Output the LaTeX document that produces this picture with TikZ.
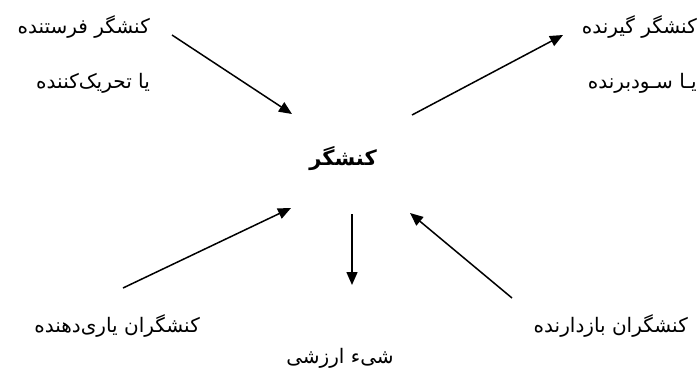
\documentclass[tikz,border=0pt]{standalone}
\usepackage{fontspec}
\newfontfamily\fa[Script=Arabic]{DejaVu Sans}
\TeXXeTstate=1
\usetikzlibrary{arrows.meta}
\tikzset{
  lbl/.style={inner sep=0pt, font=\fa\fontsize{20}{23}\selectfont},
  mainlbl/.style={inner sep=0pt, font=\fa\bfseries\fontsize{21}{24}\selectfont},
  arr/.style={line width=1.5pt, -{Triangle[length=13pt,width=11pt]}}
}
\begin{document}
\begin{tikzpicture}[x=1pt,y=-1pt]
\useasboundingbox (0,0) rectangle (699,373);
\node[lbl, anchor=east] (tl1) at (150,27) {\beginR کنشگر فرستنده\endR};
\node[lbl, anchor=east] (tl2) at (150,83) {\beginR یا تحریک‌کننده\endR};
\node[lbl, anchor=east] (tr1) at (697,27) {\beginR کنشگر گیرنده\endR};
\node[lbl, anchor=east] (tr2) at (697,83) {\beginR یـا سـودبرنده\endR};
\node[mainlbl] (c) at (343,159) {\beginR کنشگر\endR};
\node[lbl, anchor=east] (bl) at (200,326) {\beginR کنشگران یاری‌دهنده\endR};
\node[lbl, anchor=east] (br) at (688,326) {\beginR کنشگران بازدارنده\endR};
\node[lbl] (b) at (340,358) {\beginR شیء ارزشی\endR};
\coordinate (a1s) at (172,35);  \coordinate (a1e) at (292,114);
\coordinate (a2s) at (412,115); \coordinate (a2e) at (563,35);
\coordinate (a3s) at (123,288); \coordinate (a3e) at (291,208);
\coordinate (a4s) at (352,214); \coordinate (a4e) at (352,285);
\coordinate (a5s) at (512,298); \coordinate (a5e) at (410,213);
\draw[arr] (a1s) -- (a1e);
\draw[arr] (a2s) -- (a2e);
\draw[arr] (a3s) -- (a3e);
\draw[arr] (a4s) -- (a4e);
\draw[arr] (a5s) -- (a5e);
\end{tikzpicture}
\end{document}
